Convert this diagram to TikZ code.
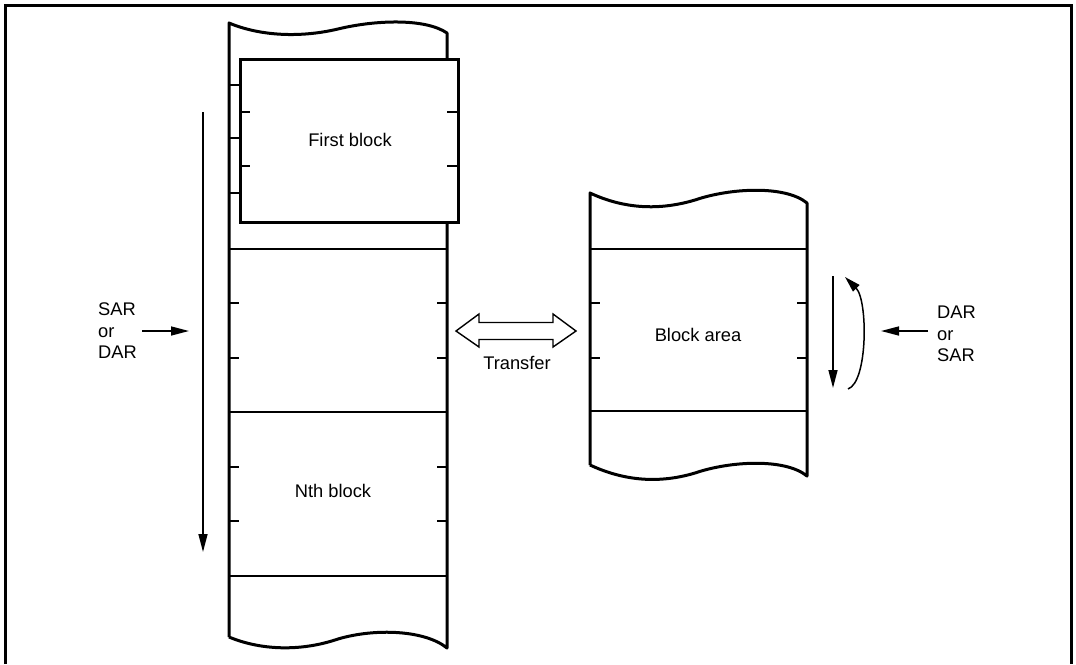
\documentclass[tikz,border=0pt]{standalone}
\usepackage{fontspec}
\setmainfont{Liberation Sans}
\usetikzlibrary{arrows.meta}
\begin{document}
\begin{tikzpicture}[x=1pt,y=-1pt,
  thick border/.style={line width=3pt},
  hline/.style={line width=2.5pt},
  tick/.style={line width=1.1pt},
  stub/.style={line width=2pt},
  lbl/.style={inner sep=0pt,font=\fontsize{18.3}{21.5}\selectfont},
  ptr/.style={line width=1.5pt,-{Triangle[length=18pt,width=9pt]}}]
\useasboundingbox (0,0) rectangle (1076,664);
% frame
\draw[line width=3pt] (5,664) -- (5,5) -- (1071,5) -- (1071,664);

% ---------- left memory column ----------
\draw[thick border,line join=round]
  (229,637) -- (229,23)
  .. controls (260,36) and (300,38) .. (338,29)
  .. controls (375,20) and (425,18) .. (447,33)
  -- (447,648)
  .. controls (425,630) and (375,628) .. (338,639)
  .. controls (300,652) and (260,650) .. (229,637);
\draw[hline] (229,249) -- (447,249);
\draw[hline] (229,412) -- (447,412);
\draw[hline] (229,576) -- (447,576);
% ticks
\foreach \yy in {303,358,467,521}{
  \draw[tick] (229,\yy) -- (239,\yy);
  \draw[tick] (437,\yy) -- (447,\yy);
}
% stubs left of first block
\foreach \yy in {85,138,193}{
  \draw[stub] (229,\yy) -- (240,\yy);
}
% first block (offset)
\node[draw,fill=white,line width=3pt,minimum width=218pt,minimum height=163pt,inner sep=0pt,anchor=north west] (first) at (239,58) {};
\foreach \yy in {112,166}{
  \draw[tick] (239,\yy) -- (250,\yy);
  \draw[tick] (447,\yy) -- (457,\yy);
}
\node[lbl] (firstlbl) at (350,140) {First block};
\node[lbl] (nth) at (333,491) {Nth block};

% long down arrow on left
\coordinate (la1) at (203,112);
\coordinate (la2) at (203,552);
\draw[ptr] (la1) -- (la2);

% SAR or DAR label
\node[lbl,anchor=west,align=left] (sarl) at (98,331) {SAR\\or\\DAR};
\coordinate (sa1) at (142,331);
\coordinate (sa2) at (189,331);
\draw[ptr] (sa1) -- (sa2);

% ---------- transfer arrow ----------
\draw[line width=1.4pt,line join=miter] (456,331) -- (479,314) -- (479,322.5) -- (553,322.5) -- (553,314)
  -- (576,331) -- (553,347) -- (553,339.5) -- (479,339.5) -- (479,347) -- cycle;
\node[lbl] (transfer) at (517,363) {Transfer};

% ---------- right memory column ----------
\draw[thick border,line join=round]
  (590,465) -- (590,193)
  .. controls (620,207) and (655,212) .. (695,200)
  .. controls (730,188) and (785,185) .. (807,203)
  -- (807,476)
  .. controls (785,458) and (730,461) .. (695,473)
  .. controls (655,485) and (620,479) .. (590,465);
\draw[hline] (590,249) -- (807,249);
\draw[hline] (590,411) -- (807,411);
\foreach \yy in {303,358}{
  \draw[tick] (590,\yy) -- (600,\yy);
  \draw[tick] (797,\yy) -- (807,\yy);
}
\node[lbl] (blockarea) at (698,335) {Block area};

% down arrow and return arrow
\coordinate (ra1) at (833,276);
\coordinate (ra2) at (833,388);
\draw[ptr] (ra1) -- (ra2);
\coordinate (rc1) at (848,389);
\coordinate (rc2) at (845,277);
\draw[line width=1.5pt,-{Triangle[length=16pt,width=9pt]}] (rc1) .. controls (868,382) and (868,300) .. (rc2);

% DAR or SAR label
\node[lbl,anchor=west,align=left] (darl) at (937,334) {DAR\\or\\SAR};
\coordinate (da1) at (928,331);
\coordinate (da2) at (881,331);
\draw[ptr] (da1) -- (da2);
\end{tikzpicture}
\end{document}
